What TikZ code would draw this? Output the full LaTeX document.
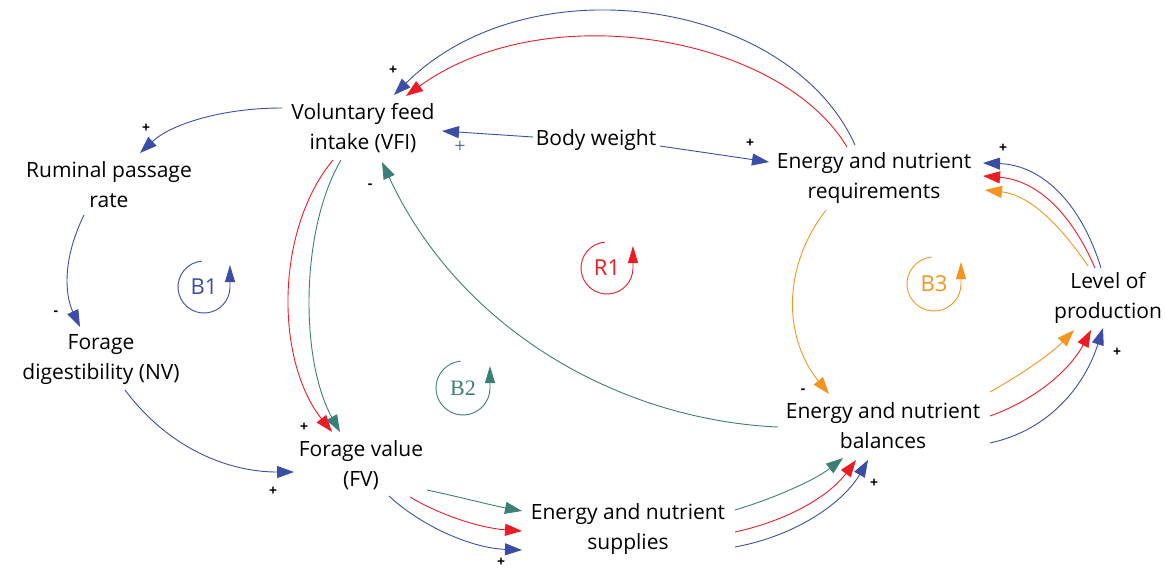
\documentclass[tikz,border=0pt]{standalone}
\usepackage{fontspec}
\setmainfont{Open Sans}
\newfontfamily\loopserif{Liberation Serif}
\usetikzlibrary{arrows.meta,calc}
\definecolor{cblue}{RGB}{58,78,168}
\definecolor{cred}{RGB}{237,28,36}
\definecolor{cteal}{RGB}{58,128,118}
\definecolor{corange}{RGB}{247,148,30}
\tikzset{
  lbl/.style={font=\fontsize{21}{30}\selectfont, align=center, inner sep=0pt, text=black},
  sgn/.style={font=\fontsize{14}{14}\selectfont\bfseries, inner sep=0pt},
  link/.style={line width=0.9pt, -{Triangle[length=17pt,width=12pt]}},
  loopar/.style={line width=0.9pt, -{Triangle[length=17pt,width=10pt]}},
  loopname/.style={font=\fontsize{22}{22}\selectfont, inner sep=0pt},
}
\begin{document}
\begin{tikzpicture}[x=1pt,y=-1pt]
\useasboundingbox (0,0) rectangle (1165,571);

% variables
\node[lbl] (vfi) at (363,128) {Voluntary feed\\intake (VFI)};
\node[lbl] (bw)  at (596,140) {Body weight};
\node[lbl] (req) at (874,178) {Energy and nutrient\\requirements};
\node[lbl] (rpr) at (109,185) {Ruminal passage\\rate};
\node[lbl] (fdnv) at (101,360) {Forage\\digestibility (NV)};
\node[lbl] (fv)  at (361,465) {Forage value\\(FV)};
\node[lbl] (sup) at (628,529) {Energy and nutrient\\supplies};
\node[lbl] (bal) at (883,426) {Energy and nutrient\\balances};
\node[lbl] (lop) at (1108,298) {Level of\\production};

% blue links
\draw[link,cblue] ($(vfi)+(-81,-20)$) .. controls (220,108) and (170,125) .. ($(rpr)+(31,-32)$);
\draw[link,cblue] ($(rpr)+(-25,30)$) .. controls (62,260) and (65,295) .. ($(fdnv)+(-21,-33)$);
\draw[link,cblue] ($(fdnv)+(24,30)$) .. controls (170,450) and (230,472) .. ($(fv)+(-67,7)$);
\draw[link,cblue] ($(bw)+(-63,-3)$) -- ($(vfi)+(79,3)$);
\draw[link,cblue] ($(bw)+(64,6)$) -- ($(req)+(-105,-16)$);
\draw[link,cblue] ($(req)+(-19,-33)$) .. controls (790,0) and (530,-40) .. ($(vfi)+(31,-33)$);
\draw[link,cblue] ($(lop)+(-7,-30)$) .. controls (1080,200) and (1040,165) .. ($(req)+(109,-15)$);
\draw[link,cblue] ($(bal)+(107,17)$) .. controls (1050,430) and (1085,385) .. ($(lop)+(-5,30)$);
\draw[link,cblue] ($(fv)+(28,31)$) .. controls (420,525) and (470,548) .. ($(sup)+(-106,21)$);
\draw[link,cblue] ($(sup)+(107,18)$) .. controls (800,535) and (845,500) .. ($(bal)+(-15,34)$);

% red links
\draw[link,cred] ($(vfi)+(-30,32)$) .. controls (275,230) and (275,360) .. ($(fv)+(-29,-33)$);
\draw[link,cred] ($(req)+(-27,-31)$) .. controls (780,35) and (545,-5) .. ($(vfi)+(43,-32)$);
\draw[link,cred] ($(lop)+(-13,-30)$) .. controls (1070,210) and (1035,180) .. ($(req)+(109,-2)$);
\draw[link,cred] ($(bal)+(107,-10)$) .. controls (1035,400) and (1070,370) .. ($(lop)+(-17,32)$);
\draw[link,cred] ($(fv)+(49,32)$) .. controls (440,515) and (480,528) .. ($(sup)+(-106,2)$);
\draw[link,cred] ($(sup)+(107,3)$) .. controls (790,520) and (830,495) .. ($(bal)+(-27,34)$);

% teal links
\draw[link,cteal] ($(vfi)+(-22,32)$) .. controls (300,230) and (300,360) .. ($(fv)+(-21,-33)$);
\draw[link,cteal] ($(bal)+(-105,1)$) .. controls (620,420) and (460,330) .. ($(vfi)+(19,34)$);
\draw[link,cteal] ($(fv)+(66,25)$) .. controls (460,497) and (490,505) .. ($(sup)+(-106,-18)$);
\draw[link,cteal] ($(sup)+(107,-19)$) .. controls (775,498) and (815,480) .. ($(bal)+(-40,32)$);

% orange links
\draw[link,corange] ($(lop)+(-20,-32)$) .. controls (1060,225) and (1030,195) .. ($(req)+(111,12)$);
\draw[link,corange] ($(req)+(-48,32)$) .. controls (780,270) and (785,340) .. ($(bal)+(-54,-32)$);
\draw[link,corange] ($(bal)+(107,-34)$) .. controls (1020,375) and (1050,355) .. ($(lop)+(-34,32)$);

% polarity signs
\node[sgn] (s1) at (393,70) {+};
\node[sgn] (s2) at (146,128) {+};
\node[inner sep=0pt, text=cblue, font=\fontsize{20}{20}\selectfont\loopserif] (s3) at (460,147) {+};
\node[sgn] (s4) at (370,186) {-};
\node[sgn] (s5) at (750,143) {+};
\node[sgn] (s6) at (1003,148) {+};
\node[sgn] (s7) at (56,313) {-};
\node[sgn] (s8) at (304,427) {+};
\node[sgn] (s9) at (273,491) {+};
\node[sgn] (s10) at (501,562) {+};
\node[sgn] (s11) at (803,391) {-};
\node[sgn] (s12) at (874,483) {+};
\node[sgn] (s13) at (1117,352) {+};

% loop markers
\node[loopname, text=cblue] (b1) at (204,287) {B1};
\draw[loopar,cblue] ($(b1)+(95:26pt)$) arc[start angle=95, end angle=360, radius=26pt] -- ++(0,-22);
\node[loopname, text=cred] (r1) at (607,268) {R1};
\draw[loopar,cred] ($(r1)+(95:26pt)$) arc[start angle=95, end angle=360, radius=26pt] -- ++(0,-22);
\node[loopname, text=cteal, font=\fontsize{22}{22}\selectfont\loopserif] (b2) at (463,388) {B2};
\draw[loopar,cteal] ($(b2)+(95:27pt)$) arc[start angle=95, end angle=360, radius=27pt] -- ++(0,-22);
\node[loopname, text=corange] (b3) at (934,284) {B3};
\draw[loopar,corange] ($(b3)+(95:27pt)$) arc[start angle=95, end angle=360, radius=27pt] -- ++(0,-22);
\end{tikzpicture}
\end{document}
